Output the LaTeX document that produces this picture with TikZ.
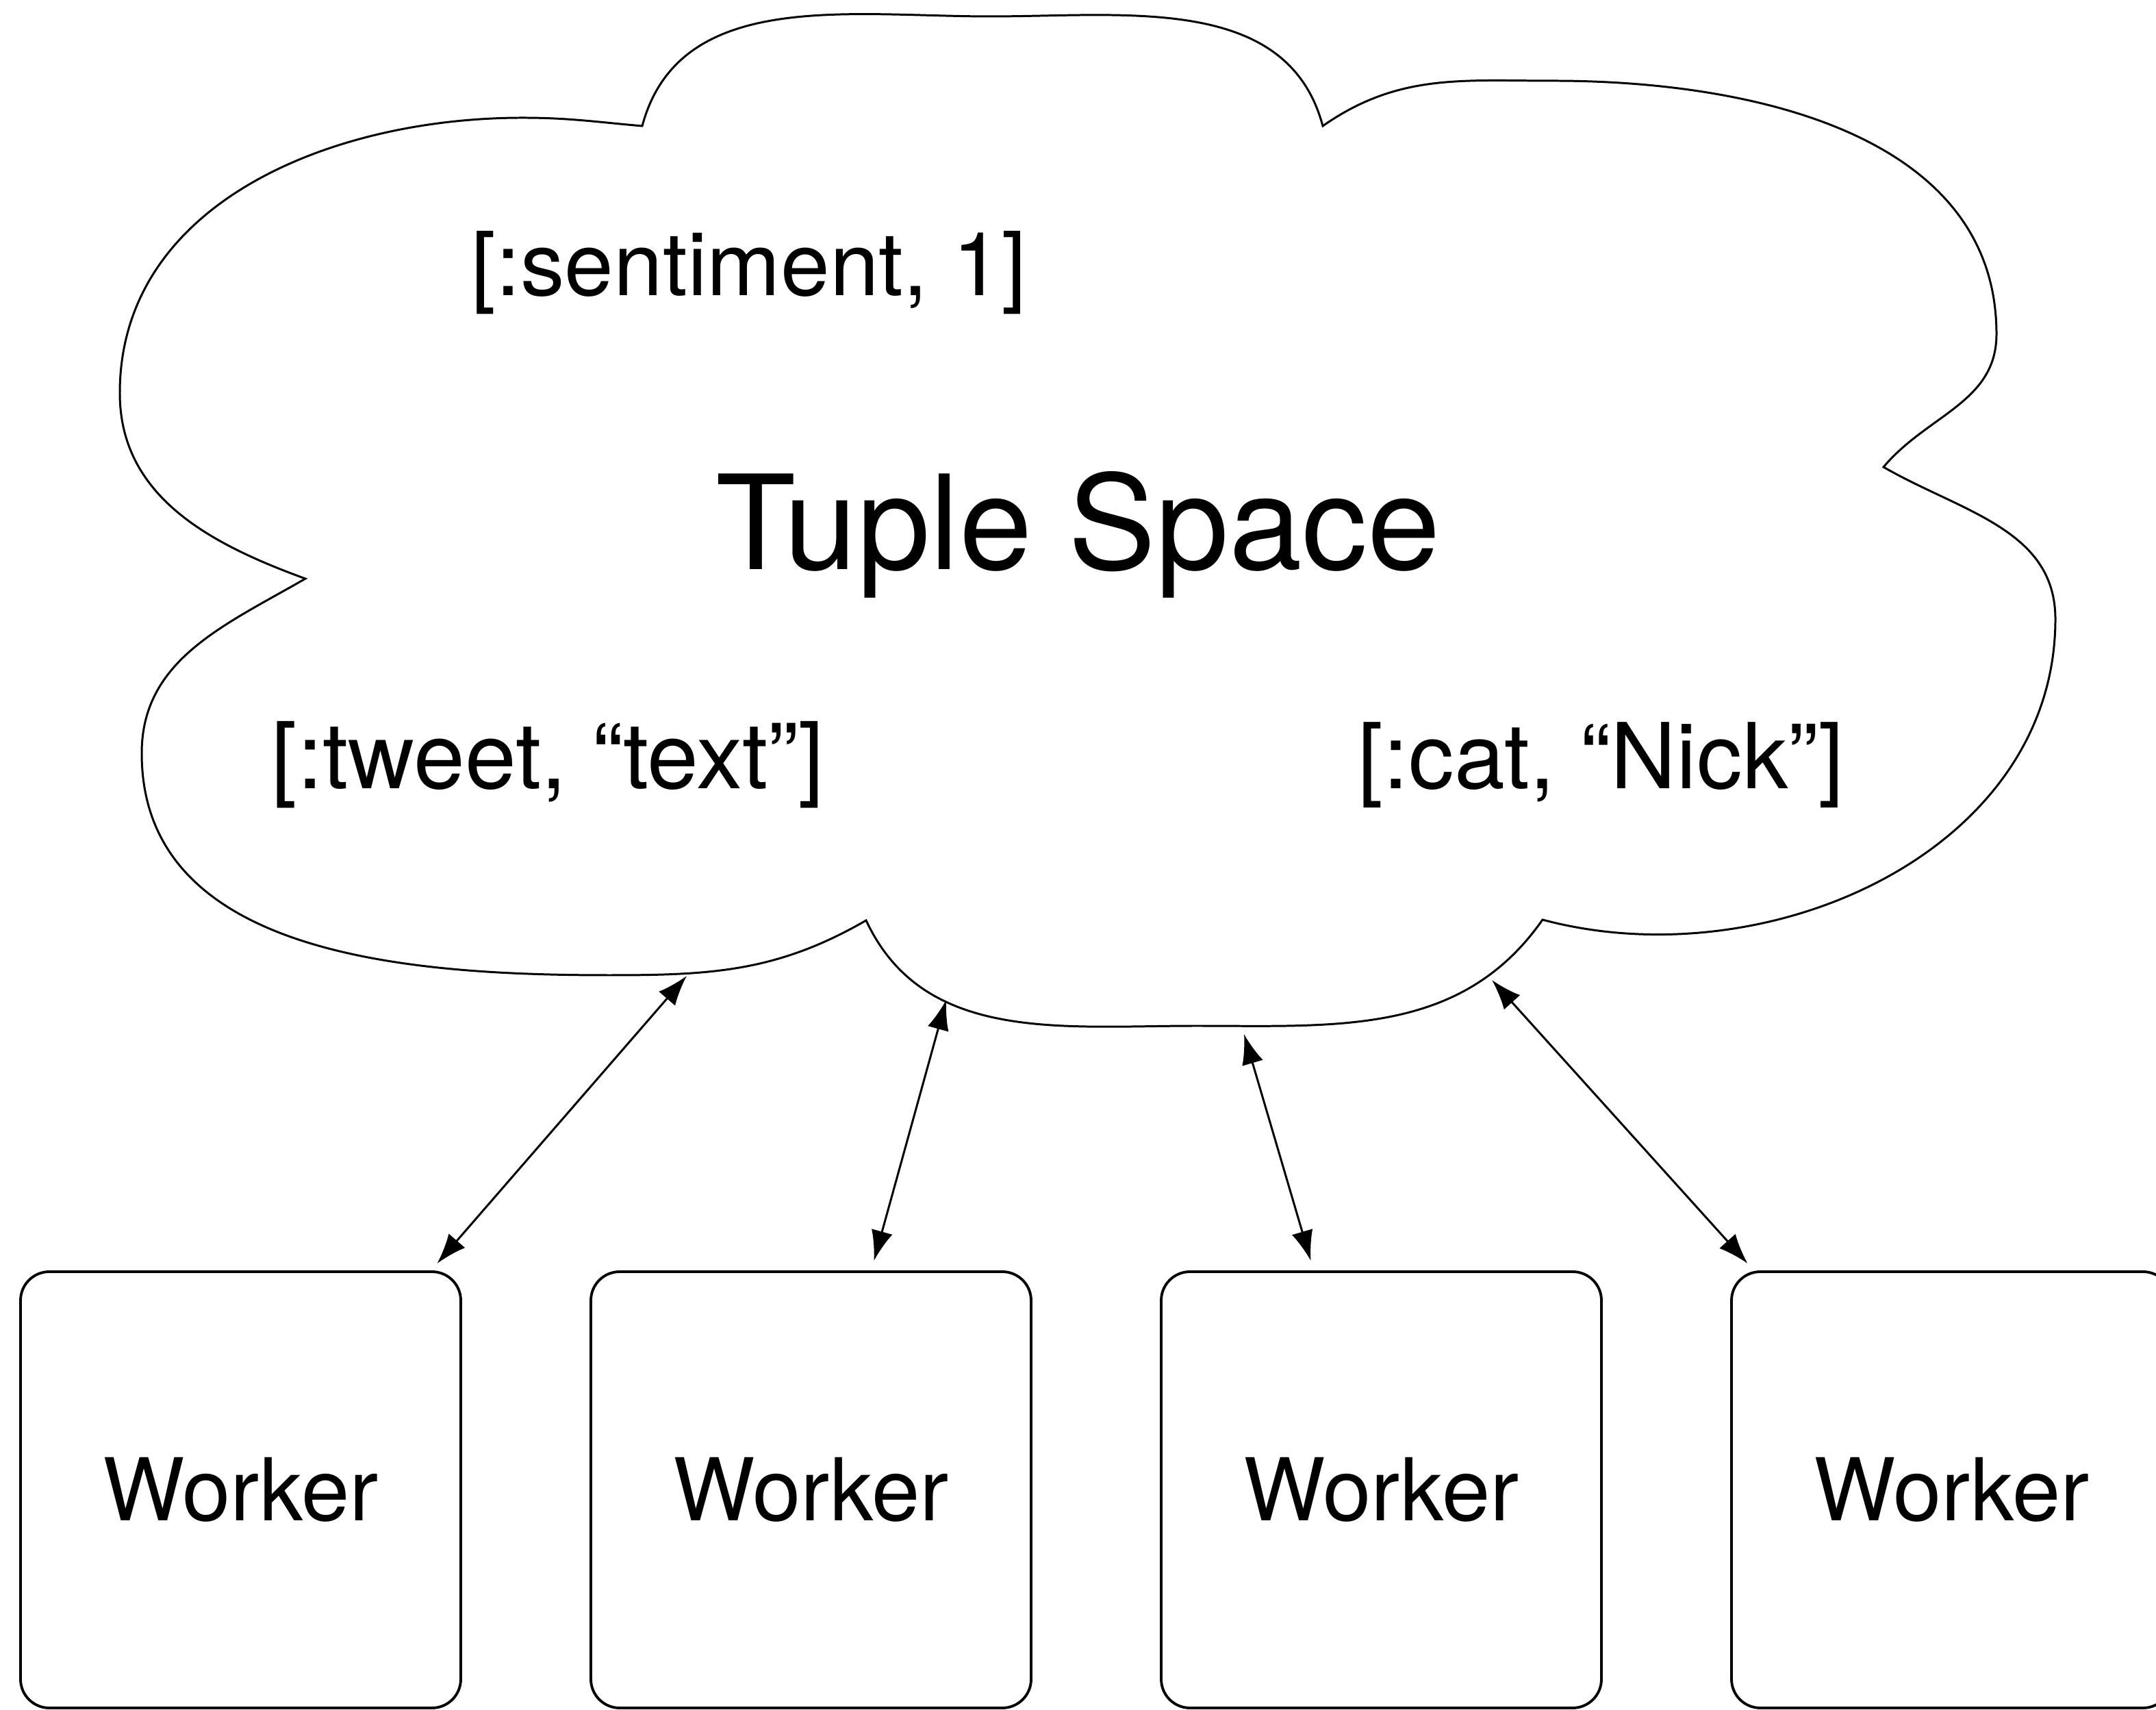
\documentclass[tikz,border=0pt]{standalone}
\usepackage{fontspec}
\setmainfont{TeX Gyre Heros}
\usetikzlibrary{positioning,arrows.meta,calc}

\begin{document}
\begin{tikzpicture}[<->,>={Latex[length=12.5pt,width=9pt]},node distance=1.9cm,
    worker node/.style={rectangle,draw,line width=1.1pt,rounded corners=0.42cm,minimum width=6.43cm,minimum height=6.37cm,inner sep=0pt,outer sep=0pt,font=\fontsize{36}{42}\selectfont},
    tuple node/.style={anchor=base west,inner sep=0pt,font=\fontsize{37.3}{44}\selectfont},
    link/.style={line width=0.85pt}]

    \useasboundingbox (0,0) rectangle (31.49,24.96);

    % the cloud
    \draw[-,line width=0.85pt] (9.38,23.12) to[out=75,in=180] (14.46,24.72)
        to[out=0,in=105] (19.32,23.12)
        to[out=35,in=180] (22.69,23.78)
        to[out=0,in=90] (29.16,20.08)
        to[out=-90,in=50] (27.51,18.14)
        to[out=-30,in=90] (30.02,15.92)
        to[out=-90,in=-15] (22.53,11.53)
        to[out=-125,in=0] (17.47,9.98)
        to[out=180,in=-65] (12.65,11.52)
        to[out=-150,in=0] (8.90,10.72)
        to[out=180,in=-90] (2.07,13.96)
        to[out=90,in=-150] (4.46,16.51)
        to[out=160,in=-90] (1.75,19.22)
        to[out=90,in=180] (7.63,23.24)
        to[out=0,in=175] cycle;

    \node[tuple node,font=\fontsize{36.7}{44}\selectfont] (sentiment) at (6.88,20.64) {[:sentiment, 1]};
    \node[tuple node,font=\fontsize{54.5}{64}\selectfont] (space) at (10.45,16.64) {Tuple Space};
    \node[tuple node,font=\fontsize{38.3}{44}\selectfont] (tweet) at (3.96,13.44) {[:tweet, “text”]};
    \node[tuple node,font=\fontsize{37.8}{44}\selectfont] (cat) at (19.83,13.44) {[:cat, “Nick”]};

    \node[worker node] (w1) at (3.515,3.205) {Worker};
    \node[worker node] (w2) [right=of w1] {Worker};
    \node[worker node] (w3) [right=of w2] {Worker};
    \node[worker node] (w4) [right=of w3] {Worker};

    \coordinate (t1) at (10.03,10.71);
    \coordinate (t2) at (13.82,10.36);
    \coordinate (t3) at (18.17,9.86);
    \coordinate (t4) at (21.79,10.65);

    \draw[link] (t1) to ($(w1.north)+(2.87,0.12)$);
    \draw[link] (t2) to ($(w2.north)+(0.92,0.16)$);
    \draw[link] (t3) to ($(w3.north)+(-1.03,0.16)$);
    \draw[link] (t4) to ($(w4.north)+(-2.98,0.12)$);

\end{tikzpicture}
\end{document}
